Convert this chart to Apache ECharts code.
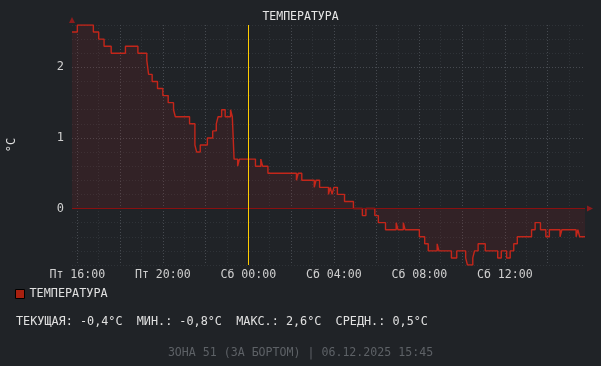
<!DOCTYPE html>
<html>
<head>
<meta charset="utf-8">
<script src="https://cdn.jsdelivr.net/npm/echarts@6/dist/echarts.min.js"></script>
<style>
html,body{margin:0;padding:0;background:#202327;}
#c{width:601px;height:366px;}
</style>
</head>
<body>
<div id="c"></div>
<script>
// ---- data ----
const chartTitle = 'ТЕМПЕРАТУРА';
const seriesName = 'ТЕМПЕРАТУРА';
const unitName = '°C';
const dayNames = ['Пт', 'Сб'];
const baseDate = '2025-12-05';
const rangeStart = '2025-12-05 15:45';
const rangeEnd = '2025-12-06 15:45';
const markerTime = '2025-12-06 00:00';
const yTickLabels = [0, 1, 2];
const statsText = 'ТЕКУЩАЯ: -0,4°C  МИН.: -0,8°C  МАКС.: 2,6°C  СРЕДН.: 0,5°C';
const footerText = 'ЗОНА 51 (ЗА БОРТОМ) | 06.12.2025 15:45';

// change points: value holds from this time until the next one
const times = [
  '2025-12-05 15:45','2025-12-05 16:00','2025-12-05 16:45','2025-12-05 17:00','2025-12-05 17:15',
  '2025-12-05 17:35','2025-12-05 18:15','2025-12-05 18:50','2025-12-05 19:15','2025-12-05 19:20',
  '2025-12-05 19:30','2025-12-05 19:45','2025-12-05 20:00','2025-12-05 20:15','2025-12-05 20:30',
  '2025-12-05 20:35','2025-12-05 21:15','2025-12-05 21:30','2025-12-05 21:35','2025-12-05 21:45',
  '2025-12-05 22:05','2025-12-05 22:20','2025-12-05 22:30','2025-12-05 22:35','2025-12-05 22:45',
  '2025-12-05 22:55','2025-12-05 23:10','2025-12-05 23:15','2025-12-05 23:20','2025-12-05 23:30',
  '2025-12-05 23:35','2025-12-06 00:20','2025-12-06 00:35','2025-12-06 00:40','2025-12-06 00:55',
  '2025-12-06 02:15','2025-12-06 02:20','2025-12-06 02:30','2025-12-06 03:05','2025-12-06 03:10',
  '2025-12-06 03:20','2025-12-06 03:45','2025-12-06 03:50','2025-12-06 03:55','2025-12-06 04:00',
  '2025-12-06 04:10','2025-12-06 04:30','2025-12-06 04:55','2025-12-06 05:20','2025-12-06 05:30',
  '2025-12-06 05:55','2025-12-06 06:05','2025-12-06 06:25','2025-12-06 06:55','2025-12-06 07:00',
  '2025-12-06 07:15','2025-12-06 07:20','2025-12-06 08:00','2025-12-06 08:15','2025-12-06 08:25',
  '2025-12-06 08:50','2025-12-06 08:55','2025-12-06 09:30','2025-12-06 09:45','2025-12-06 10:10',
  '2025-12-06 10:15','2025-12-06 10:30','2025-12-06 10:35','2025-12-06 10:45','2025-12-06 11:05',
  '2025-12-06 11:40','2025-12-06 11:50','2025-12-06 12:05','2025-12-06 12:15','2025-12-06 12:25',
  '2025-12-06 12:35','2025-12-06 13:15','2025-12-06 13:25','2025-12-06 13:40','2025-12-06 13:55',
  '2025-12-06 14:05','2025-12-06 14:35','2025-12-06 14:40','2025-12-06 15:20','2025-12-06 15:25',
  '2025-12-06 15:30','2025-12-06 15:45'
];
const values = [
  2.5, 2.6, 2.5, 2.4, 2.3,
  2.2, 2.3, 2.2, 2.1, 1.9,
  1.8, 1.7, 1.6, 1.5, 1.4,
  1.3, 1.2, 0.9, 0.8, 0.9,
  1.0, 1.1, 1.2, 1.3, 1.4,
  1.3, 1.4, 1.3, 0.7, 0.6,
  0.7, 0.6, 0.7, 0.6, 0.5,
  0.4, 0.5, 0.4, 0.3, 0.4,
  0.3, 0.2, 0.3, 0.2, 0.3,
  0.2, 0.1, 0.0, -0.1, 0.0,
  -0.1, -0.2, -0.3, -0.2, -0.3,
  -0.2, -0.3, -0.4, -0.5, -0.6,
  -0.5, -0.6, -0.7, -0.6, -0.7,
  -0.8, -0.7, -0.6, -0.5, -0.6,
  -0.7, -0.6, -0.7, -0.6, -0.5,
  -0.4, -0.3, -0.2, -0.3, -0.4,
  -0.3, -0.4, -0.3, -0.4, -0.3,
  -0.4, -0.4
];

// ---- helpers ----
function toHours(s) {
  const [d, t] = s.split(' ');
  const dayOff = Math.round((Date.parse(d + 'T00:00:00Z') - Date.parse(baseDate + 'T00:00:00Z')) / 86400000);
  const [hh, mm] = t.split(':').map(Number);
  return dayOff * 24 + hh + mm / 60;
}
const seriesData = times.map((t, i) => [toHours(t), values[i]]);

const MONO = "'DejaVu Sans Mono', monospace";
const minorGrid = '#2f3338';
const majorGrid = '#464a50';
const none = 'rgba(0,0,0,0)';

const chart = echarts.init(document.getElementById('c'), null, {renderer: 'canvas'});
chart.setOption({
  animation: false,
  backgroundColor: '#202327',
  title: [
    {text: chartTitle, left: 'center', top: 11, padding: 0,
     textStyle: {color: '#e6e6e6', fontSize: 11.5, fontWeight: 'normal', fontFamily: MONO}},
    {text: statsText, left: 16, top: 316, padding: 0,
     textStyle: {color: '#e0e0e0', fontSize: 11.8, fontWeight: 'normal', fontFamily: MONO}},
    {text: footerText, left: 'center', top: 347, padding: 0,
     textStyle: {color: '#5d6166', fontSize: 11.6, fontWeight: 'normal', fontFamily: MONO}}
  ],
  legend: {
    left: 15, top: 288, padding: 0, icon: 'rect', itemWidth: 9, itemHeight: 9, itemGap: 6,
    textStyle: {color: '#e0e0e0', fontSize: 11.8, fontFamily: MONO},
    data: [{name: seriesName, itemStyle: {color: '#a8200f', borderColor: '#000', borderWidth: 1}}]
  },
  grid: {left: 72, top: 25, right: 16, bottom: 101, containLabel: false, outerBoundsMode: 'none'},
  xAxis: {
    type: 'value',
    min: toHours(rangeStart), max: toHours(rangeEnd), interval: 0.25,
    axisLine: {show: true, symbol: ['none', 'triangle'], symbolSize: [6, 6], symbolOffset: [0, 5],
               lineStyle: {color: '#8c1c1c', width: 0}},
    axisTick: {show: false},
    axisLabel: {
      color: '#cfcfcf', fontSize: 11.6, fontFamily: MONO, margin: 4,
      formatter: function (v) {
        const q = Math.round(v * 4) / 4;
        if (Math.abs(q % 4) > 1e-9) return '';
        const day = dayNames[Math.floor(q / 24)];
        const h = q % 24;
        return day + ' ' + String(h).padStart(2, '0') + ':00';
      }
    },
    splitLine: {show: true, lineStyle: {type: [1, 2], width: 1,
      color: [none, majorGrid, none, none, none, minorGrid, none, none]}}
  },
  yAxis: {
    type: 'value', min: -0.8, max: 2.6, interval: 0.2,
    name: unitName, nameLocation: 'middle', nameGap: 54, nameRotate: 90,
    nameTextStyle: {color: '#e0e0e0', fontSize: 12, fontFamily: MONO},
    axisLine: {show: true, symbol: ['none', 'triangle'], symbolSize: [6, 6], symbolOffset: [0, 5],
               lineStyle: {color: '#8c1c1c', width: 0}},
    axisTick: {show: false},
    axisLabel: {
      color: '#cfcfcf', fontSize: 12, fontFamily: MONO, margin: 8,
      formatter: function (v) {
        const r = Math.round(v);
        return (Math.abs(v - r) < 1e-6 && yTickLabels.indexOf(r) >= 0) ? String(r) : '';
      }
    },
    splitLine: {show: true, lineStyle: {type: [1, 2], width: 1,
      color: [minorGrid, minorGrid, minorGrid, minorGrid, majorGrid]}}
  },
  series: [{
    name: seriesName,
    type: 'line',
    step: 'end',
    showSymbol: false,
    data: seriesData,
    color: '#a8200f',
    lineStyle: {color: '#c4261a', width: 1.4},
    areaStyle: {color: 'rgba(150,35,35,0.22)'},
    markLine: {
      silent: true, symbol: 'none', label: {show: false},
      lineStyle: {color: '#8a1010', width: 1.2, type: 'solid'},
      data: [{yAxis: 0}]
    }
  }, {
    name: 'midnight',
    type: 'line',
    data: [],
    markLine: {
      silent: true, symbol: 'none', label: {show: false},
      lineStyle: {color: '#ffcc00', width: 1, type: 'solid', opacity: 1},
      emphasis: {disabled: true},
      data: [{xAxis: toHours(markerTime)}]
    }
  }]
});
</script>
</body>
</html>
